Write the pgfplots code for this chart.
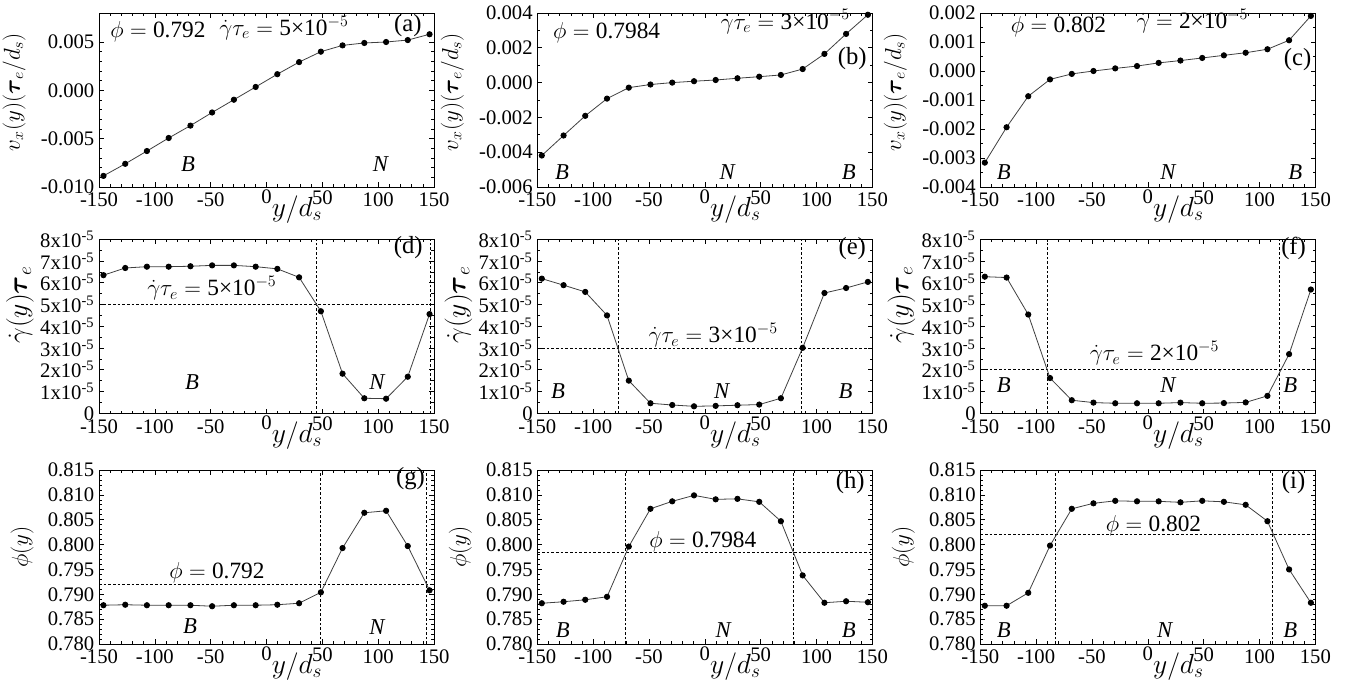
\documentclass[border=0pt]{standalone}
\usepackage{amsmath}
\usepackage{fontspec}
\setmainfont{Liberation Serif}
\usepackage{pgfplots}
\usepackage{pgfplotstable}
\pgfplotsset{compat=1.18}

\pgfplotstableread{
x a b c d e f g h i
-146.0 -0.00885 -0.00419 -0.00316 6.35e-5 6.19e-5 6.28e-5 0.7878 0.7882 0.7877
-126.5 -0.00760 -0.00304 -0.00194 6.68e-5 5.89e-5 6.24e-5 0.7879 0.7885 0.7877
-107.1 -0.00628 -0.00191 -0.00087 6.74e-5 5.58e-5 4.54e-5 0.7878 0.7889 0.7903
-87.6 -0.00493 -0.00092 -0.00029 6.74e-5 4.50e-5 1.62e-5 0.7878 0.7895 0.7998
-68.1 -0.00365 -0.00029 -0.00010 6.76e-5 1.50e-5 0.60e-5 0.7878 0.7996 0.8072
-48.7 -0.00229 -0.00011 0.00000 6.80e-5 0.46e-5 0.49e-5 0.7876 0.8072 0.8083
-29.2 -0.00097 0.00000 0.00009 6.80e-5 0.38e-5 0.46e-5 0.7878 0.8087 0.8088
-9.7 0.00035 0.00008 0.00017 6.74e-5 0.32e-5 0.46e-5 0.7878 0.8099 0.8087
9.7 0.00167 0.00015 0.00028 6.64e-5 0.34e-5 0.46e-5 0.7879 0.8091 0.8087
29.2 0.00292 0.00025 0.00036 6.25e-5 0.37e-5 0.49e-5 0.7882 0.8092 0.8085
48.7 0.00400 0.00034 0.00045 4.69e-5 0.40e-5 0.46e-5 0.7904 0.8086 0.8088
68.1 0.00465 0.00044 0.00054 1.82e-5 0.69e-5 0.47e-5 0.7993 0.8047 0.8086
87.6 0.00490 0.00078 0.00063 0.69e-5 3.01e-5 0.50e-5 0.8064 0.7938 0.8080
107.1 0.00500 0.00165 0.00075 0.67e-5 5.53e-5 0.80e-5 0.8068 0.7883 0.8047
126.5 0.00520 0.00280 0.00106 1.68e-5 5.76e-5 2.72e-5 0.7997 0.7886 0.7950
146.0 0.00580 0.00390 0.00190 4.56e-5 6.04e-5 5.69e-5 0.7908 0.7884 0.7883
}\data

\newcommand{\tickf}{\fontsize{15.5}{17}\selectfont}
\newcommand{\xlabf}{\fontsize{20.5}{22}\selectfont}
\newcommand{\annf}{\fontsize{17.5}{19}\selectfont}
\newcommand{\regf}{\fontsize{17}{19}\selectfont}
\newcommand{\panf}{\fontsize{18.5}{20}\selectfont}

\tikzset{
  ann/.style={font=\annf, inner sep=0pt},
  pan/.style={font=\panf, inner sep=0pt},
  reg/.style={font=\regf\itshape, inner sep=0pt},
}
\pgfplotsset{
  panel/.style={
    scale only axis, width=251.25pt, height=130.5pt, anchor=south west,
    clip=false,
    xmin=-150, xmax=150, xtick={-150,-100,-50,0,50,100,150},
    xticklabels={-150,-100,-50,\raisebox{2.5pt}[\height][\depth]{0},\raisebox{2pt}[\height][\depth]{50},100,150},
    minor x tick num=4,
    tick align=inside, major tick length=3.5pt, minor tick length=2pt,
    every tick/.style={black, line width=0.5pt},
    axis line style={line width=0.75pt},
    tick label style={font=\tickf},
    /pgf/number format/assume math mode=true,
    scaled y ticks=false, scaled x ticks=false,
    xticklabel style={yshift=-1pt},
    xlabel={$y/d_s$},
    xlabel style={at={(rel axis cs:0.591,0)}, anchor=base, yshift=-21.75pt, inner sep=0pt, font=\xlabf},
  },
  dat/.style={black!75, line width=0.6pt, mark=*, mark size=2pt, mark options={fill=black, draw=black, solid}},
  dsh/.style={black, line width=0.6pt, dash pattern=on 2pt off 1.5pt},
  rowtwo/.style={ymin=0, ymax=8e-5, ytick={0,1e-5,2e-5,3e-5,4e-5,5e-5,6e-5,7e-5,8e-5},
    yticklabels={0,1x10\textsuperscript{-5},2x10\textsuperscript{-5},3x10\textsuperscript{-5},4x10\textsuperscript{-5},5x10\textsuperscript{-5},6x10\textsuperscript{-5},7x10\textsuperscript{-5},8x10\textsuperscript{-5}},
    minor y tick num=1},
  rowthree/.style={ymin=0.780, ymax=0.815, ytick={0.780,0.785,0.790,0.795,0.800,0.805,0.810,0.815},
    yticklabels={0.780,0.785,0.790,0.795,0.800,0.805,0.810,0.815}, minor y tick num=4},
}

\begin{document}
\begin{tikzpicture}
\useasboundingbox (0,0) rectangle (1019.25pt,515.25pt);

% ---------- (a)
\begin{axis}[panel, at={(74.25pt,375pt)}, ymin=-0.010, ymax=0.008,
  ytick={-0.010,-0.005,0,0.005}, yticklabels={-0.010,-0.005,0.000,0.005}, minor y tick num=4]
\addplot[dat] table[x=x,y=a]{\data};
\node[ann] at (rel axis cs:0.176,0.89) {$\phi = \mbox{0.792}$};
\node[ann] at (rel axis cs:0.552,0.915) {$\dot{\gamma}\tau_e = \mbox{5×10}^{-5}$};
\node[pan] at (rel axis cs:0.922,0.93) {(a)};
\node[reg] at (rel axis cs:0.266,0.13) {B};
\node[reg] at (rel axis cs:0.84,0.13) {N};
\end{axis}

% ---------- (b)
\begin{axis}[panel, at={(403pt,375pt)}, ymin=-0.006, ymax=0.004,
  ytick={-0.006,-0.004,-0.002,0,0.002,0.004}, yticklabels={-0.006,-0.004,-0.002,0.000,0.002,0.004}, minor y tick num=1]
\addplot[dat] table[x=x,y=b]{\data};
\node[ann] at (rel axis cs:0.207,0.887) {$\phi = \mbox{0.7984}$};
\node[ann] at (rel axis cs:0.74,0.95) {$\dot{\gamma}\tau_e = \mbox{3×10}^{-5}$};
\node[pan] at (rel axis cs:0.94,0.74) {(b)};
\node[reg] at (rel axis cs:0.074,0.087) {B};
\node[reg] at (rel axis cs:0.567,0.087) {N};
\node[reg] at (rel axis cs:0.93,0.087) {B};
\end{axis}

% ---------- (c)
\begin{axis}[panel, at={(735.25pt,375pt)}, ymin=-0.004, ymax=0.002,
  ytick={-0.004,-0.003,-0.002,-0.001,0,0.001,0.002}, yticklabels={-0.004,-0.003,-0.002,-0.001,0.000,0.001,0.002}, minor y tick num=1]
\addplot[dat] table[x=x,y=c]{\data};
\node[ann] at (rel axis cs:0.233,0.92) {$\phi = \mbox{0.802}$};
\node[ann] at (rel axis cs:0.633,0.955) {$\dot{\gamma} = \mbox{2×10}^{-5}$};
\node[pan] at (rel axis cs:0.947,0.73) {(c)};
\node[reg] at (rel axis cs:0.07,0.087) {B};
\node[reg] at (rel axis cs:0.56,0.087) {N};
\node[reg] at (rel axis cs:0.94,0.087) {B};
\end{axis}

% ---------- (d)
\begin{axis}[panel, rowtwo, at={(74.25pt,205.3pt)}]
\addplot[dsh] coordinates {(-150,5e-5) (150,5e-5)};
\addplot[dsh] coordinates {(45,0) (45,8e-5)};
\addplot[dsh] coordinates {(147,0) (147,8e-5)};
\addplot[dat] table[x=x,y=d]{\data};
\node[ann] at (rel axis cs:0.337,0.72) {$\dot{\gamma}\tau_e = \mbox{5×10}^{-5}$};
\node[pan] at (rel axis cs:0.923,0.95) {(d)};
\node[reg] at (rel axis cs:0.278,0.18) {B};
\node[reg] at (rel axis cs:0.83,0.18) {N};
\end{axis}

% ---------- (e)
\begin{axis}[panel, rowtwo, at={(403pt,205.3pt)}]
\addplot[dsh] coordinates {(-150,3e-5) (150,3e-5)};
\addplot[dsh] coordinates {(-77,0) (-77,8e-5)};
\addplot[dsh] coordinates {(86.3,0) (86.3,8e-5)};
\addplot[dat] table[x=x,y=e]{\data};
\node[ann] at (rel axis cs:0.525,0.45) {$\dot{\gamma}\tau_e = \mbox{3×10}^{-5}$};
\node[pan] at (rel axis cs:0.94,0.948) {(e)};
\node[reg] at (rel axis cs:0.062,0.128) {B};
\node[reg] at (rel axis cs:0.55,0.128) {N};
\node[reg] at (rel axis cs:0.92,0.128) {B};
\end{axis}

% ---------- (f)
\begin{axis}[panel, rowtwo, at={(735.25pt,205.3pt)}]
\addplot[dsh] coordinates {(-150,2e-5) (150,2e-5)};
\addplot[dsh] coordinates {(-90.2,0) (-90.2,8e-5)};
\addplot[dsh] coordinates {(117.7,0) (117.7,8e-5)};
\addplot[dat] table[x=x,y=f]{\data};
\node[ann] at (rel axis cs:0.52,0.345) {$\dot{\gamma}\tau_e = \mbox{2×10}^{-5}$};
\node[pan] at (rel axis cs:0.935,0.95) {(f)};
\node[reg] at (rel axis cs:0.07,0.16) {B};
\node[reg] at (rel axis cs:0.56,0.16) {N};
\node[reg] at (rel axis cs:0.925,0.16) {B};
\end{axis}

% ---------- (g)
\begin{axis}[panel, rowthree, at={(74.25pt,32.25pt)}]
\addplot[dsh] coordinates {(-150,0.792) (150,0.792)};
\addplot[dsh] coordinates {(48.6,0.780) (48.6,0.815)};
\addplot[dsh] coordinates {(143,0.780) (143,0.815)};
\addplot[dat] table[x=x,y=g]{\data};
\node[ann] at (rel axis cs:0.352,0.41) {$\phi = \mbox{0.792}$};
\node[pan] at (rel axis cs:0.93,0.95) {(g)};
\node[reg] at (rel axis cs:0.272,0.1) {B};
\node[reg] at (rel axis cs:0.83,0.1) {N};
\end{axis}

% ---------- (h)
\begin{axis}[panel, rowthree, at={(403pt,32.25pt)}]
\addplot[dsh] coordinates {(-150,0.7984) (150,0.7984)};
\addplot[dsh] coordinates {(-71.4,0.780) (-71.4,0.815)};
\addplot[dsh] coordinates {(78.9,0.780) (78.9,0.815)};
\addplot[dat] table[x=x,y=h]{\data};
\node[ann] at (rel axis cs:0.494,0.59) {$\phi = \mbox{0.7984}$};
\node[pan] at (rel axis cs:0.934,0.93) {(h)};
\node[reg] at (rel axis cs:0.076,0.08) {B};
\node[reg] at (rel axis cs:0.555,0.08) {N};
\node[reg] at (rel axis cs:0.93,0.08) {B};
\end{axis}

% ---------- (i)
\begin{axis}[panel, rowthree, at={(735.25pt,32.25pt)}]
\addplot[dsh] coordinates {(-150,0.802) (150,0.802)};
\addplot[dsh] coordinates {(-82.9,0.780) (-82.9,0.815)};
\addplot[dsh] coordinates {(111.3,0.780) (111.3,0.815)};
\addplot[dat] table[x=x,y=i]{\data};
\node[ann] at (rel axis cs:0.517,0.68) {$\phi = \mbox{0.802}$};
\node[pan] at (rel axis cs:0.935,0.93) {(i)};
\node[reg] at (rel axis cs:0.07,0.08) {B};
\node[reg] at (rel axis cs:0.55,0.08) {N};
\node[reg] at (rel axis cs:0.925,0.08) {B};
\end{axis}

% ---------- y labels
\foreach \xx in {10.5pt,339.2pt,671.5pt}{
  \node[rotate=90, font=\fontsize{18}{20}\selectfont, inner sep=0pt] at (\xx,446.25pt) {$v_x(y)(\boldsymbol{\tau}_e/d_s)$};
}
\foreach \xx in {15pt,343.8pt,676pt}{
  \node[rotate=90, font=\fontsize{21}{23}\selectfont, inner sep=0pt] at (\xx,286.5pt) {$\dot{\gamma}(y)\boldsymbol{\tau}_e$};
}
\foreach \xx in {16.5pt,345.2pt,677.5pt}{
  \node[rotate=90, font=\fontsize{19}{21}\selectfont, inner sep=0pt] at (\xx,105pt) {$\phi(y)$};
}
\end{tikzpicture}
\end{document}
